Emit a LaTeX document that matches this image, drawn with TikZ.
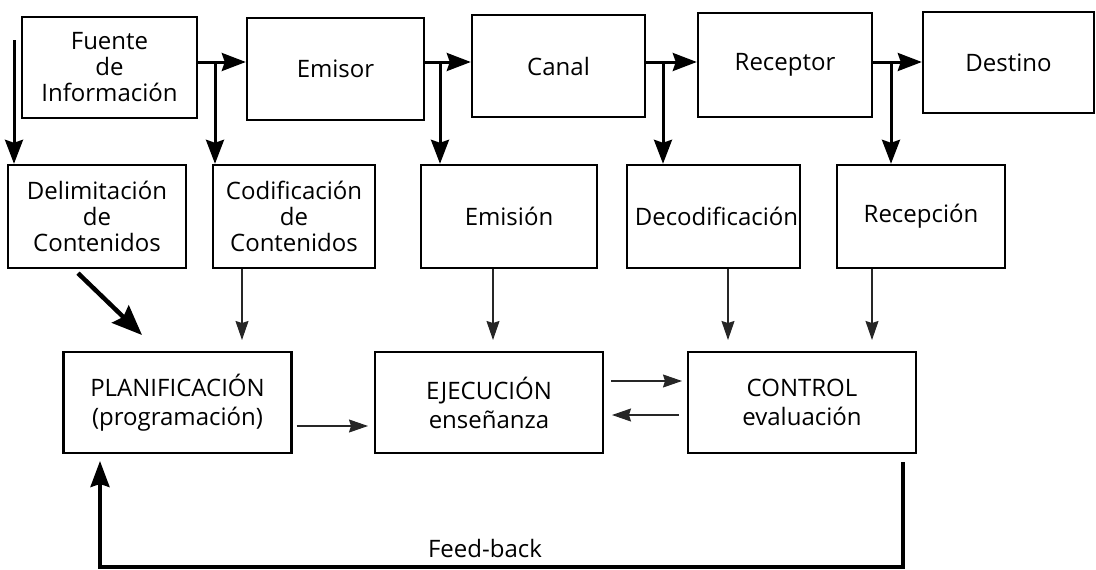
\documentclass[tikz,border=0pt]{standalone}
\usepackage{fontspec}
\setmainfont{Open Sans}
\usetikzlibrary{arrows.meta}

\begin{document}
\begin{tikzpicture}[x=1pt,y=-1pt,
  box/.style={draw,line width=2.4pt,align=center,inner sep=0pt,
    font=\fontsize{24}{26}\selectfont},
  bigbox/.style={box,minimum width=228,minimum height=101,
    font=\fontsize{24}{29}\selectfont},
  flow/.style={line width=3pt,-{Stealth[length=24pt,width=18pt,inset=3pt]}},
  feed/.style={line width=1.2pt,black!85,-{Stealth[length=19pt,width=13pt,inset=2pt]}},
]

\useasboundingbox (0,0) rectangle (1096,570);

% Top row
\node[box,minimum width=175,minimum height=101] (fuente) at (109.5,67.5) {Fuente\\de\\Información};
\node[box,minimum width=177,minimum height=102] (emisor) at (335.5,69) {Emisor};
\node[box,minimum width=173,minimum height=102] (canal) at (558.5,66) {Canal};
\node[box,minimum width=174,minimum height=104] (receptor) at (785,65) {Receptor};
\node[box,minimum width=171,minimum height=101] (destino) at (1008.5,62.5) {Destino};

% Middle row
\node[box,minimum width=178,minimum height=103] (delim) at (97,216.5) {Delimitación\\de\\Contenidos};
\node[box,minimum width=162,minimum height=103] (codif) at (294,216.5) {Codificación\\de\\Contenidos};
\node[box,minimum width=176,minimum height=103] (emision) at (509,216.5) {Emisión};
\node[box,minimum width=173,minimum height=103] (decod) at (713.5,216.5) {\hspace{6pt}Decodificación};
\node[box,minimum width=168,minimum height=103] (recep) at (921,216.5) {Recepción};

% Bottom row
\node[bigbox] (plan) at (177.5,402.5) {PLANIFICACIÓN\\(programación)};
\node[bigbox] (ejec) at (489,402.5) {EJECUCIÓN\\enseñanza};
\node[bigbox] (control) at (802,402.5) {CONTROL\\evaluación};

% Taps on the top line
\coordinate (tap0) at (14,40);
\coordinate (tap1) at (215,62);
\coordinate (tap2) at (440,62);
\coordinate (tap3) at (663,62);
\coordinate (tap4) at (891,62);

\draw[flow] (tap0) -- (tap0 |- delim.north);
\draw[flow] (fuente.east |- tap1) -- (emisor.west |- tap1);
\draw[flow] (tap1) -- (tap1 |- codif.north);
\draw[flow] (emisor.east |- tap2) -- (canal.west |- tap2);
\draw[flow] (tap2) -- (tap2 |- emision.north);
\draw[flow] (canal.east |- tap3) -- (receptor.west |- tap3);
\draw[flow] (tap3) -- (tap3 |- decod.north);
\draw[flow] (receptor.east |- tap4) -- (destino.west |- tap4);
\draw[flow] (tap4) -- (tap4 |- recep.north);

% Down to the bottom row
\coordinate (diagtip) at (142,335);
\draw[line width=4.5pt,-{Stealth[length=30pt,width=24pt,inset=4pt]}] ([shift={(-19,4)}]delim.south) -- (diagtip);
\coordinate (drop1) at (242,340);
\coordinate (drop2) at (493,340);
\coordinate (drop3) at (728,340);
\coordinate (drop4) at (872,340);
\draw[feed] (codif.south -| drop1) -- (drop1);
\draw[feed] (emision.south -| drop2) -- (drop2);
\draw[feed] (decod.south -| drop3) -- (drop3);
\draw[feed] (recep.south -| drop4) -- (drop4);

% Between the bottom boxes
\coordinate (pe) at (368,426);
\coordinate (ec) at (682,381);
\coordinate (ce) at (612,415);
\draw[feed] ([xshift=4]plan.east |- pe) -- (pe);
\draw[feed] ([xshift=7]ejec.east |- ec) -- (ec);
\draw[feed] ([xshift=-8]control.west |- ce) -- (ce);

% Feed-back loop
\coordinate (fbtop) at (903,462);
\coordinate (fbcorner) at (903,567);
\coordinate (fbtip) at (100,461);
\draw[line width=3.5pt,-{Stealth[length=26pt,width=19pt,inset=3pt]}] (fbtop) -- (fbcorner) -| (fbtip);
\node[font=\fontsize{24}{26}\selectfont] (fblabel) at (485,548) {Feed-back};

\end{tikzpicture}
\end{document}
